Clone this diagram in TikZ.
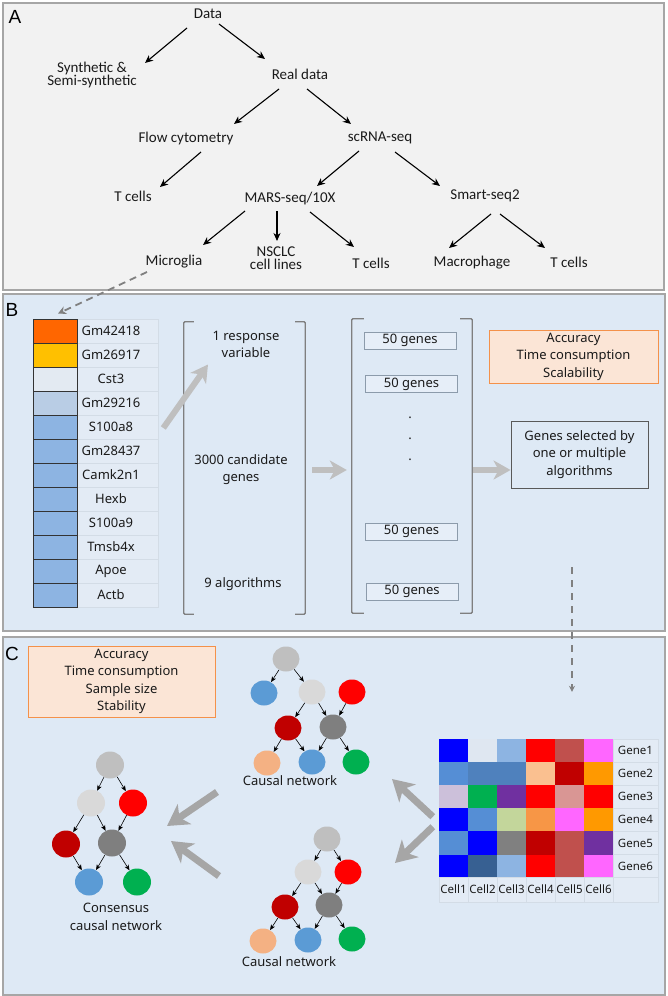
\documentclass[tikz,border=0pt]{standalone}
\usepackage{fontspec}
\setmainfont{Noto Sans}
\newfontfamily\afont{Carlito}
\newfontfamily\labfont{Liberation Sans}
\usetikzlibrary{arrows.meta,shapes.geometric}
\definecolor{bgA}{HTML}{F2F2F2}
\definecolor{bgB}{HTML}{DEE9F5}
\definecolor{frame}{HTML}{A6A6A6}
\definecolor{txt}{HTML}{1A1A1A}
\definecolor{brk}{HTML}{7F7F7F}
\definecolor{garr}{HTML}{BFBFBF}
\definecolor{garrC}{HTML}{A6A6A6}
\definecolor{dash}{HTML}{808080}
\definecolor{orfill}{HTML}{FBE5D6}
\definecolor{ordraw}{HTML}{F4914A}
\definecolor{cellfill}{HTML}{E3EBF5}
\definecolor{cellline}{HTML}{D3DCE6}
\definecolor{boxline}{HTML}{8C9BAB}
\definecolor{boxfill}{HTML}{E6EEF8}
\definecolor{selline}{HTML}{595959}
% gene table
\definecolor{gOr}{HTML}{FF6600}
\definecolor{gYe}{HTML}{FFC000}
\definecolor{gLt}{HTML}{E3EAF2}
\definecolor{gMd}{HTML}{B9CDE5}
\definecolor{gBl}{HTML}{8DB4E2}
% network
\definecolor{nTop}{HTML}{BFBFBF}
\definecolor{nLg}{HTML}{D9D9D9}
\definecolor{nRd}{HTML}{FF0000}
\definecolor{nDr}{HTML}{C00000}
\definecolor{nDg}{HTML}{7F7F7F}
\definecolor{nBl}{HTML}{5B9BD5}
\definecolor{nGr}{HTML}{00B050}
\definecolor{nPe}{HTML}{F4B183}
% heatmap
\definecolor{hB}{HTML}{0000FF}
\definecolor{hW}{HTML}{DFE7F1}
\definecolor{hLB}{HTML}{8DB4E2}
\definecolor{hR}{HTML}{FF0000}
\definecolor{hBr}{HTML}{C0504D}
\definecolor{hP}{HTML}{FF66FF}
\definecolor{hMB}{HTML}{558ED5}
\definecolor{hSB}{HTML}{4F81BD}
\definecolor{hPe}{HTML}{FAC090}
\definecolor{hDR}{HTML}{C00000}
\definecolor{hO}{HTML}{FF9900}
\definecolor{hLi}{HTML}{CCC0DA}
\definecolor{hG}{HTML}{00B050}
\definecolor{hPu}{HTML}{7030A0}
\definecolor{hRo}{HTML}{D99694}
\definecolor{hOl}{HTML}{C3D69B}
\definecolor{hOr}{HTML}{F79646}
\definecolor{hGy}{HTML}{808080}
\definecolor{hNv}{HTML}{376092}
\begin{document}
\begin{tikzpicture}[x=1pt,y=-1pt,
  panel/.style={draw=frame,line width=1.3pt},
  plab/.style={font=\labfont\fontsize{19}{20}\selectfont, text=black, inner sep=0pt},
  ta/.style={font=\afont\fontsize{15}{13.5}\selectfont, text=txt, align=center, inner sep=1pt},
  tb/.style={font=\fontsize{13}{17.5}\selectfont, text=txt, align=center, inner sep=1pt},
  arrA/.style={draw=black, line width=1.1pt, -{Stealth[length=8pt,width=7pt,inset=2.5pt]}},
  darr/.style={draw=dash, line width=1.8pt, dash pattern=on 7pt off 5pt, -{Stealth[length=8pt,width=8pt,inset=2.5pt]}},
  darr2/.style={draw=dash, line width=1.4pt, dash pattern=on 7pt off 6pt, -{Stealth[length=6pt,width=6pt,inset=2pt]}},
  garrow/.style={draw=garr, line width=6pt, -{Stealth[length=17pt,width=19pt,inset=5pt]}},
  garrowC/.style={draw=garrC, line width=7pt, -{Stealth[length=21pt,width=24pt,inset=6pt]}},
  gcol/.style={draw=black!80, line width=0.8pt, minimum width=44pt, minimum height=24pt, inner sep=0pt},
  glab/.style={draw=cellline, line width=0.6pt, fill=cellfill, minimum width=81pt, minimum height=24pt, inner sep=0pt},
  brkt/.style={draw=brk, line width=1.3pt, rounded corners=1pt},
  fifty/.style={draw=boxline, line width=0.8pt, fill=boxfill, minimum width=92pt, minimum height=17pt, inner sep=0pt, font=\fontsize{13}{15}\selectfont, text=txt},
  orbox/.style={draw=ordraw, line width=1pt, fill=orfill, align=center, font=\fontsize{13}{17.5}\selectfont, text=txt, inner sep=0pt},
  nd/.style={ellipse, minimum width=27pt, minimum height=25pt, inner sep=0pt},
  ndc/.style={ellipse, minimum width=28pt, minimum height=27pt, inner sep=0pt},
  narr/.style={draw=black, line width=0.6pt, -{Stealth[length=5.5pt,width=4.5pt,inset=1.5pt]}},
  hcell/.style={minimum width=29pt, minimum height=23.1pt, inner sep=0pt},
  hlab/.style={draw=cellline, line width=0.6pt, fill=cellfill, inner sep=0pt, font=\fontsize{11.5}{13}\selectfont, text=txt}
]
\useasboundingbox (0,0) rectangle (667,996);
\fill[white] (0,0) rectangle (667,996);
% panels
\draw[panel, fill=bgA] (3,3) rectangle (664,290);
\draw[panel, fill=bgB] (3,294) rectangle (665,631);
\draw[panel, fill=bgB] (3,637) rectangle (665,995);
\node[plab] (labA) at (15,17) {A};
\node[plab] (labB) at (12,310) {B};
\node[plab] (labC) at (12,654) {C};

% ---------- Panel A ----------
\node[ta] (data) at (208,14) {Data};
\node[ta] (syn) at (92,75) {Synthetic \&\\Semi-synthetic};
\node[ta] (real) at (300,74) {Real data};
\node[ta] (flow) at (186,138) {Flow cytometry};
\node[ta] (scrna) at (380,138) {scRNA-seq};
\node[ta] (tcl) at (133,196) {T cells};
\node[ta] (mars) at (290,198) {MARS-seq/10X};
\node[ta] (smart) at (485,196) {Smart-seq2};
\node[ta] (micro) at (174,262) {Microglia};
\node[ta] (nsclc) at (276,258) {NSCLC\\cell lines};
\node[ta] (tcm) at (371,263) {T cells};
\node[ta] (macro) at (472,263) {Macrophage};
\node[ta] (tcr) at (569,262) {T cells};

\draw[arrA] ([shift={(-21,14)}]data.center) -- ([shift={(53,-12)}]syn.center);
\draw[arrA] ([shift={(11,10)}]data.center) -- ([shift={(-35,-15)}]real.center);
\draw[arrA] ([shift={(-21,15)}]real.center) -- ([shift={(48,-14)}]flow.center);
\draw[arrA] ([shift={(7,15)}]real.center) -- ([shift={(-29,-14)}]scrna.center);
\draw[arrA] ([shift={(15,14)}]flow.center) -- ([shift={(27,-9)}]tcl.center);
\draw[arrA] ([shift={(-21,13)}]scrna.center) -- ([shift={(27,-12)}]mars.center);
\draw[arrA] ([shift={(15,14)}]scrna.center) -- ([shift={(-45,-10)}]smart.center);
\draw[arrA] ([shift={(-45,13)}]mars.center) -- ([shift={(29,-17)}]micro.center);
\draw[arrA] ([shift={(-13,13)}]mars.center) -- ([shift={(1,-17)}]nsclc.center);
\draw[arrA] ([shift={(20,14)}]mars.center) -- ([shift={(-17,-16)}]tcm.center);
\draw[arrA] ([shift={(6,18)}]smart.center) -- ([shift={(-23,-15)}]macro.center);
\draw[arrA] ([shift={(15,18)}]smart.center) -- ([shift={(-24,-14)}]tcr.center);

% ---------- Panel B ----------
\foreach \g/\c [count=\i] in {Gm42418/gOr, Gm26917/gYe, Cst3/gLt, Gm29216/gMd, S100a8/gBl, Gm28437/gBl, Camk2n1/gBl, Hexb/gBl, S100a9/gBl, Tmsb4x/gBl, Apoe/gBl, Actb/gBl}{
  \node[glab] (gl\i) at (117.5,{307+24*\i}) {};
  \node[gcol, fill=\c] (gc\i) at (55,{307+24*\i}) {};
  \node[tb] (gt\i) at (111,{307+24*\i}) {\g};
}
\draw[darr] ([shift={(-27,10)}]micro.center) -- ([shift={(3,-5)}]gc1.north);

% bracket 1
\node[minimum width=121pt, minimum height=292pt, inner sep=0pt] (br1) at (244.5,468) {};
\draw[brkt] ([xshift=10]br1.north west) -- (br1.north west) -- (br1.south west) -- ([xshift=10]br1.south west);
\draw[brkt] ([xshift=-10]br1.north east) -- (br1.north east) -- (br1.south east) -- ([xshift=-10]br1.south east);
\node[tb] (resp) at (246,344.5) {1 response\\variable};
\node[tb] (cand) at (241,469.5) {3000 candidate\\genes};
\node[tb] (algo) at (243,584) {9 algorithms};
\draw[garrow] ([shift={(5,1)}]gl5.east) -- ([shift={(-38,20)}]resp.center);

% bracket 2
\node[minimum width=120pt, minimum height=294pt, inner sep=0pt] (br2) at (412,466) {};
\draw[brkt] ([xshift=12]br2.north west) -- (br2.north west) -- (br2.south west) -- ([xshift=12]br2.south west);
\draw[brkt] ([xshift=-12]br2.north east) -- (br2.north east) -- (br2.south east) -- ([xshift=-12]br2.south east);
\node[fifty] (fg1) at (410,340.5) {50 genes};
\node[fifty] (fg2) at (411.5,384) {50 genes};
\node[fifty] (fg3) at (411.5,531.5) {50 genes};
\node[fifty] (fg4) at (412,591.5) {50 genes};
\node[tb, inner sep=0pt] (dot1) at (410,418) {.};
\node[tb, inner sep=0pt] (dot2) at (410,439) {.};
\node[tb, inner sep=0pt] (dot3) at (410,459.5) {.};
\draw[garrow] ([shift={(7,2)}]br1.east) -- ([shift={(-5,4)}]br2.west);

\node[orbox, minimum width=169pt, minimum height=53pt] (critB) at (573.5,356.5) {Accuracy\\Time consumption\\Scalability};
\node[draw=selline, line width=0.9pt, align=center, font=\fontsize{13}{17.5}\selectfont, text=txt, minimum width=137pt, minimum height=67pt, inner sep=0pt] (sel) at (579.5,454.5) {Genes selected by\\one or multiple\\algorithms};
\draw[garrow] ([shift={(1,4)}]br2.east) -- ([shift={(0,15.5)}]sel.west);

% ---------- Panel C ----------
\node[orbox, minimum width=187pt, minimum height=71pt] (critC) at (121.5,681.5) {Accuracy\\Time consumption\\Sample size\\Stability};

% consensus network
\node[ndc, fill=nTop] (cTop) at (110,765) {};
\node[ndc, fill=nLg] (cLg) at (91,803) {};
\node[ndc, fill=nRd] (cRd) at (133,803) {};
\node[ndc, fill=nDr] (cDr) at (66,844) {};
\node[ndc, fill=nDg] (cDg) at (112,843) {};
\node[ndc, fill=nBl] (cBl) at (89,882) {};
\node[ndc, fill=nGr] (cGr) at (137,882) {};
\draw[narr] (cTop) -- (cLg);
\draw[narr] (cTop) -- (cRd);
\draw[narr] (cLg) -- (cDr);
\draw[narr] (cLg) -- (cDg);
\draw[narr] (cRd) -- (cDg);
\draw[narr] (cDr) -- (cBl);
\draw[narr] (cDg) -- (cBl);
\draw[narr] (cDg) -- (cGr);
\node[tb] (cCap) at (116,917) {Consensus\\causal network};

% top causal network
\node[nd, fill=nTop] (tTop) at (286,659) {};
\node[nd, fill=nBl] (tBlA) at (264,693) {};
\node[nd, fill=nLg] (tLg) at (312,692) {};
\node[nd, fill=nRd] (tRd) at (352,692) {};
\node[nd, fill=nDr] (tDr) at (288,728) {};
\node[nd, fill=nDg] (tDg) at (333,727) {};
\node[nd, fill=nPe] (tPe) at (267,763) {};
\node[nd, fill=nBl] (tBl) at (312,762) {};
\node[nd, fill=nGr] (tGr) at (356,762) {};
\draw[narr] (tTop) -- (tBlA);
\draw[narr] (tTop) -- (tLg);
\draw[narr] (tLg) -- (tDr);
\draw[narr] (tLg) -- (tDg);
\draw[narr] (tRd) -- (tDg);
\draw[narr] (tDr) -- (tPe);
\draw[narr] (tDr) -- (tBl);
\draw[narr] (tDg) -- (tBl);
\draw[narr] (tDg) -- (tGr);
\node[tb] (tCap) at (290,781) {Causal network};

% bottom causal network
\node[nd, fill=nTop] (bTop) at (327,839) {};
\node[nd, fill=nLg] (bLg) at (308,872) {};
\node[nd, fill=nRd] (bRd) at (348,872) {};
\node[nd, fill=nDr] (bDr) at (285,907) {};
\node[nd, fill=nDg] (bDg) at (329,905) {};
\node[nd, fill=nPe] (bPe) at (263,941) {};
\node[nd, fill=nBl] (bBl) at (308,940) {};
\node[nd, fill=nGr] (bGr) at (352,939) {};
\draw[narr] (bTop) -- (bLg);
\draw[narr] (bTop) -- (bRd);
\draw[narr] (bLg) -- (bDr);
\draw[narr] (bLg) -- (bDg);
\draw[narr] (bRd) -- (bDg);
\draw[narr] (bDr) -- (bPe);
\draw[narr] (bDr) -- (bBl);
\draw[narr] (bDg) -- (bBl);
\draw[narr] (bDg) -- (bGr);
\node[tb] (bCap) at (289,962) {Causal network};

% heatmap
\foreach \row [count=\i] in {{hB,hW,hLB,hR,hBr,hP},{hMB,hSB,hSB,hPe,hDR,hO},{hLi,hG,hPu,hR,hRo,hR},{hB,hMB,hOl,hOr,hP,hO},{hMB,hB,hGy,hDR,hBr,hPu},{hB,hNv,hLB,hR,hBr,hP}}{
  \foreach \c [count=\j] in \row {
    \node[hcell, fill=\c] (h\i\j) at ({424.5+29*\j},{727.45+23.1*\i}) {};
  }
  \node[hlab, minimum width=45pt, minimum height=23.1pt] (gn\i) at (635.5,{727.45+23.1*\i}) {Gene\i};
}
\foreach \j in {1,...,6}{
  \node[hlab, minimum width=29pt, minimum height=25pt] (cl\j) at ({424.5+29*\j},889.5) {Cell\j};
}
\node[hlab, minimum width=45pt, minimum height=25pt] (corner) at (635.5,889.5) {};

\draw[darr2] ([shift={(-7.5,79)}]sel.south) -- ([shift={(2.5,-47)}]h15.north);

% big gray arrows in C
\coordinate (ga1s) at (217,792);
\coordinate (ga1e) at (167,826);
\coordinate (ga2s) at (219,876);
\coordinate (ga2e) at (171,841);
\draw[garrowC] (ga1s) -- (ga1e);
\draw[garrowC] (ga2s) -- (ga2e);
\draw[garrowC] ([shift={(-6,20)}]h31.west) -- ([shift={(36,17)}]tGr.center);
\draw[garrowC] ([shift={(-6,30)}]h31.west) -- ([shift={(47,-9)}]bRd.center);
\end{tikzpicture}
\end{document}
